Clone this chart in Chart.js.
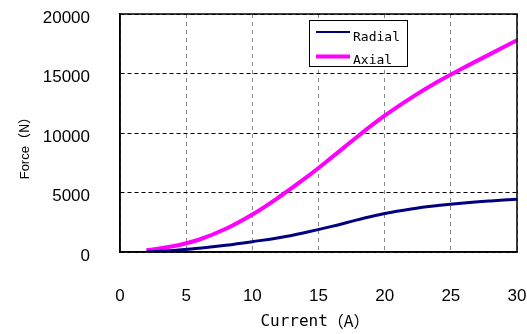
<!DOCTYPE html>
<html>
<head>
<meta charset="utf-8">
<script src="https://cdn.jsdelivr.net/npm/chart.js@4.4.1/dist/chart.umd.min.js"></script>
<style>
html,body{margin:0;padding:0;background:#fff;}
#wrap{width:527px;height:334px;}
</style>
</head>
<body>
<div id="wrap"><canvas id="c" width="527" height="334"></canvas></div>
<script>
const currentX = [2, 4, 6, 8, 10, 12, 14, 16, 18, 20, 22, 24, 26, 28, 30];
const radialY = [0, 120, 320, 570, 870, 1200, 1640, 2150, 2720, 3240, 3620, 3900, 4120, 4290, 4430];
const axialY = [150, 480, 1050, 1950, 3150, 4600, 6200, 7950, 9750, 11450, 12950, 14300, 15500, 16650, 17800];
const seriesNames = ['Radial', 'Axial'];
const xTitleMain = 'Current';
const xTitleUnit = '（A）';
const yTitleMain = 'Force';
const yTitleUnit = '（N）';

function pts(xs, ys){ return xs.map((x,i)=>({x:x, y:ys[i]})); }

const CJK = '"Noto Sans CJK JP", "Noto Sans CJK SC", sans-serif';

function drawSplit(ctx, a, fa, b, fb, cx, cy){
  ctx.textBaseline = 'middle';
  ctx.textAlign = 'left';
  ctx.font = fa; const w1 = ctx.measureText(a).width;
  ctx.font = fb; const w2 = ctx.measureText(b).width;
  const x0 = cx - (w1 + w2) / 2;
  ctx.font = fa; ctx.fillText(a, x0, cy);
  ctx.font = fb; ctx.fillText(b, x0 + w1, cy - 1);
}

const framePlugin = {
  id: 'frame',
  afterDatasetsDraw(chart){
    const {ctx, chartArea:a} = chart;
    ctx.save();
    ctx.strokeStyle = '#000';
    ctx.lineWidth = 1.5;
    ctx.setLineDash([]);
    ctx.strokeRect(a.left, a.top, a.right - a.left, a.bottom - a.top);
    ctx.restore();
  },
  afterDraw(chart){
    const {ctx} = chart;
    ctx.save();
    ctx.fillStyle = '#000';
    ctx.translate(25, 145);
    ctx.rotate(-Math.PI/2);
    drawSplit(ctx, yTitleMain, '13px "Liberation Sans", Arial, sans-serif', yTitleUnit, '13px ' + CJK, 0, 0);
    ctx.restore();
    ctx.save();
    ctx.fillStyle = '#000';
    drawSplit(ctx, xTitleMain, '16px "DejaVu Sans Mono", monospace', xTitleUnit, '16px ' + CJK, 315, 322);
    ctx.restore();
    // legend
    ctx.save();
    ctx.fillStyle = '#fff';
    ctx.fillRect(309, 20, 99, 46);
    ctx.strokeStyle = '#000';
    ctx.lineWidth = 1;
    ctx.strokeRect(309.5, 20.5, 98, 46);
    const ds = chart.data.datasets;
    const rows = [{y:32, w:2, ty:38}, {y:56.5, w:4, ty:61}];
    ds.forEach((d,i)=>{
      const r = rows[i];
      ctx.strokeStyle = d.borderColor;
      ctx.lineWidth = r.w;
      ctx.beginPath();
      ctx.moveTo(316, r.y);
      ctx.lineTo(350, r.y);
      ctx.stroke();
      ctx.fillStyle = '#000';
      ctx.font = '13px "DejaVu Sans Mono", monospace';
      ctx.textAlign = 'left';
      ctx.textBaseline = 'middle';
      ctx.fillText(d.label, 353, r.ty);
    });
    ctx.restore();
  }
};

const tickFont = {family: '"Liberation Sans", Arial, sans-serif', size: 17};

function build(){
new Chart(document.getElementById('c'), {
  type: 'line',
  data: {
    datasets: [
      {label: seriesNames[0], data: pts(currentX, radialY), borderColor: '#000080', borderWidth: 3, pointRadius: 0, tension: 0.4, fill: false},
      {label: seriesNames[1], data: pts(currentX, axialY), borderColor: '#FF00FF', borderWidth: 4, pointRadius: 0, tension: 0.4, fill: false}
    ]
  },
  options: {
    responsive: false,
    animation: false,
    layout: {padding: {top: 14, right: 10, left: 0, bottom: 0}},
    plugins: {legend: {display: false}, tooltip: {enabled: false}},
    scales: {
      x: {
        type: 'linear', min: 0, max: 30,
        afterFit(s){ s.height = 82; },
        ticks: {stepSize: 5, padding: 0, color: '#000', font: tickFont, callback: v => String(v)},
        grid: {color: '#888', lineWidth: 1, drawTicks: true, tickLength: 34, tickColor: 'rgba(0,0,0,0)'},
        border: {display: true, color: '#000', width: 1.5, dash: [4, 4]}
      },
      y: {
        min: 0, max: 20000,
        afterFit(s){ s.width = 120; },
        ticks: {stepSize: 5000, padding: 0, labelOffset: 4, color: '#000', font: tickFont, callback: v => String(v)},
        grid: {color: '#000', lineWidth: 1, drawTicks: true, tickLength: 30, tickColor: 'rgba(0,0,0,0)'},
        border: {display: true, color: '#000', width: 1.5, dash: [4, 3]}
      }
    }
  },
  plugins: [framePlugin]
});
}
let built = false;
function go(){ if (!built) { built = true; build(); } }
if (document.fonts && document.fonts.load) {
  Promise.all([
    document.fonts.load('16px "Noto Sans CJK JP"', '（A）'),
    document.fonts.load('16px "DejaVu Sans Mono"', 'Current'),
    document.fonts.load('17px "Liberation Sans"', '0123')
  ]).then(go, go);
  setTimeout(go, 300);
} else { go(); }
</script>
</body>
</html>
